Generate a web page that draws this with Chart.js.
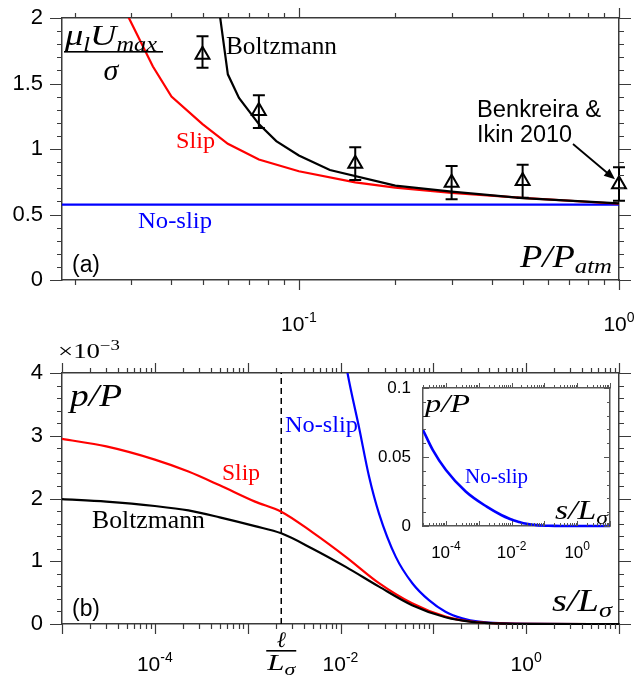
<!DOCTYPE html>
<html lang="en">
<head>
<meta charset="UTF-8" />
<title>Maximum speed and pressure: Boltzmann, slip and no-slip</title>
<script src="https://cdn.jsdelivr.net/npm/chart.js"></script>
<style>
  html, body { margin: 0; padding: 0; background: #fff; }
  #wrap { position: relative; width: 636px; height: 677px; }
  #wrap canvas { position: absolute; left: 0; top: 0; }
</style>
</head>
<body>
<div id="wrap">
  <canvas id="chartA" width="636" height="677"></canvas>
  <canvas id="chartB" width="636" height="677"></canvas>
  <canvas id="chartInset" width="636" height="677"></canvas>
</div>
<script>
// ---------- panel (a): mu_l U_max / sigma against P / P_atm ----------
const pressureNoSlip = [0.0182, 1];
const umaxNoSlip = [0.575, 0.575];
const pressureSlip = [0.025, 0.03, 0.035, 0.04, 0.05, 0.06, 0.075, 0.1, 0.15, 0.2, 0.3, 0.5, 1];
const umaxSlip = [2.35, 1.96, 1.63, 1.40, 1.19, 1.04, 0.92, 0.83, 0.745, 0.705, 0.665, 0.627, 0.582];
const pressureBoltz = [0.05, 0.06, 0.065, 0.075, 0.085, 0.1, 0.125, 0.2, 0.3, 0.5, 1];
const umaxBoltz = [3.0, 1.57, 1.39, 1.19, 1.06, 0.95, 0.84, 0.72, 0.675, 0.625, 0.585];
// Benkreira & Ikin 2010 measurements with error bars
const pressureExp = [0.05, 0.075, 0.15, 0.3, 0.5, 1];
const umaxExp = [1.72, 1.29, 0.887, 0.742, 0.756, 0.73];
const umaxExpLow = [1.62, 1.16, 0.763, 0.616, 0.628, 0.605];
const umaxExpHigh = [1.86, 1.41, 1.013, 0.870, 0.880, 0.860];

// ---------- panel (b): p / P against s / L_sigma (values x 1e-3) ----------
const sGrid = [1e-5, 3e-5, 1e-4, 2.3e-4, 5e-4, 1.2e-3, 2.3e-3, 5e-3, 1.14e-2, 2.6e-2, 5.9e-2, 0.135, 0.26, 1, 10];
const pSlip = [2.95, 2.83, 2.62, 2.43, 2.21, 1.95, 1.79, 1.46, 1.07, 0.65, 0.33, 0.117, 0.037, 0.003, 0];
const pBoltz = [1.99, 1.95, 1.88, 1.81, 1.70, 1.56, 1.445, 1.20, 0.91, 0.595, 0.30, 0.107, 0.035, 0.003, 0];
// no-slip p/P (true value, used as is in the inset and x1000 in panel b)
const sNoSlip = [2e-5, 4e-5, 1e-4, 4e-4, 1.75e-3, 5e-3, 9e-3, 1.19e-2, 1.58e-2, 2.03e-2, 2.6e-2, 3.94e-2, 5.94e-2, 8.97e-2, 0.135, 0.205, 0.31, 1, 10];
const pNoSlip = [0.0696, 0.055, 0.0406, 0.025, 0.014, 0.0078, 0.0051, 0.0040, 0.00314, 0.00235, 0.00176, 0.00107, 0.00065, 0.00038, 0.000196, 0.00009, 0.000037, 0.000002, 0];
const ellOverL = 2.3e-3;

// tick labels
const aTickVals = [0.1, 1];
const aTickExps = ['-1', '0'];
const bTickVals = [1e-4, 1e-2, 1];
const bTickExps = ['-4', '-2', '0'];

const W = 636, H = 677;
const SANS = '"Liberation Sans", Arial, Helvetica, sans-serif';
const SERIF = '"Liberation Serif", "Times New Roman", serif';
const AXIS = '#3a3a3a';
const AREA_A = { left: 62, top: 18, right: 619, bottom: 280 };
const AREA_B = { left: 62, top: 373, right: 619, bottom: 624 };
const AREA_I = { left: 423, top: 388, right: 610, bottom: 526 };

const zip = (xs, ys) => xs.map((x, i) => ({ x: x, y: ys[i] }));
const fmt = v => String(Math.round(v * 1000) / 1000);

function logTicks(min, max) {
  const major = [], minor = [];
  for (let e = Math.floor(Math.log10(min)); e <= Math.ceil(Math.log10(max)); e++) {
    for (let k = 1; k < 10; k++) {
      const v = k * Math.pow(10, e);
      if (v < min * 0.999 || v > max * 1.001) continue;
      (k === 1 ? major : minor).push(v);
    }
  }
  return { major, minor };
}
function linTicks(min, max, step) {
  const out = [];
  for (let i = 0; min + i * step <= max + 1e-9; i++) out.push(min + i * step);
  return out;
}

// text made of runs [text, font, dy]; optional fitted width
function drawRuns(ctx, runs, x, y, o) {
  o = o || {};
  ctx.save();
  let w = 0;
  runs.forEach(r => { ctx.font = r[1]; w += ctx.measureText(r[0]).width; });
  const sx = o.width ? o.width / w : 1;
  let x0 = x;
  if (o.align === 'center') x0 = x - w * sx / 2;
  if (o.align === 'right') x0 = x - w * sx;
  ctx.translate(x0, y);
  ctx.scale(sx, 1);
  ctx.fillStyle = o.color || '#000';
  ctx.textAlign = 'left';
  ctx.textBaseline = 'alphabetic';
  let cx = 0;
  runs.forEach(r => { ctx.font = r[1]; ctx.fillText(r[0], cx, r[2] || 0); cx += ctx.measureText(r[0]).width; });
  ctx.restore();
}

// short tick marks on one edge of the plot area; dir = +1 / -1 away from the edge
function tickMarks(ctx, scale, values, edge, dir, len) {
  ctx.beginPath();
  values.forEach(v => {
    const p = Math.round(scale.getPixelForValue(v)) + 0.5;
    if (scale.isHorizontal()) { ctx.moveTo(p, edge); ctx.lineTo(p, edge + dir * len); }
    else { ctx.moveTo(edge, p); ctx.lineTo(edge + dir * len, p); }
  });
  ctx.stroke();
}

function powerLabels(ctx, scale, vals, exps, y, size) {
  vals.forEach((v, i) => {
    drawRuns(ctx, [['10', size + 'px ' + SANS, 0], [exps[i], Math.round(size * 0.68) + 'px ' + SANS, -Math.round(size * 0.45)]],
      scale.getPixelForValue(v), y, { align: 'center' });
  });
}

function fixed(area, side) {
  return s => {
    if (side === 'left') s.width = area.left;
    if (side === 'right') s.width = W - area.right;
    if (side === 'top') s.height = area.top;
    if (side === 'bottom') s.height = H - area.bottom;
  };
}

function axes(area, xType, xMin, xMax, yMin, yMax, yStep, yFont, yGap, borderColor) {
  const hidden = { display: false };
  const grid = { display: false, drawTicks: false };
  const border = { color: borderColor, width: 1.5 };
  return {
    x: { type: xType, position: 'bottom', min: xMin, max: xMax, grid, border, ticks: hidden, afterFit: fixed(area, 'bottom') },
    xTop: { type: xType, position: 'top', min: xMin, max: xMax, grid, border, ticks: hidden, afterFit: fixed(area, 'top') },
    // the gap between label and axis goes in tickLength so that it does not pad the top of the plot
    y: { type: 'linear', position: 'left', min: yMin, max: yMax, border,
         grid: { display: false, drawTicks: true, tickLength: yGap },
         ticks: { stepSize: yStep, padding: 0, color: '#000', font: { family: SANS, size: yFont }, callback: fmt },
         afterFit: fixed(area, 'left') },
    yRight: { type: 'linear', position: 'right', min: yMin, max: yMax, grid, border, ticks: hidden, afterFit: fixed(area, 'right') }
  };
}

const common = {
  responsive: false,
  animation: false,
  events: [],
  layout: { padding: 0 },
  plugins: { legend: { display: false }, tooltip: { enabled: false } }
};
const line = (data, color, extra) => Object.assign({ data, borderColor: color, borderWidth: 2.2, pointRadius: 0, fill: false, tension: 0 }, extra || {});

// ---------- chart (a) ----------
const decorA = {
  id: 'decorA',
  afterDraw(chart) {
    const ctx = chart.ctx, a = chart.chartArea;
    const xs = chart.scales.x, ys = chart.scales.y;
    // error bars
    ctx.save();
    ctx.strokeStyle = '#000';
    ctx.lineWidth = 2;
    pressureExp.forEach((p, i) => {
      const x = xs.getPixelForValue(p);
      const lo = ys.getPixelForValue(umaxExpLow[i]), hi = ys.getPixelForValue(umaxExpHigh[i]);
      ctx.beginPath();
      ctx.moveTo(x, lo); ctx.lineTo(x, hi);
      ctx.moveTo(x - 6, lo); ctx.lineTo(x + 6, lo);
      ctx.moveTo(x - 6, hi); ctx.lineTo(x + 6, hi);
      ctx.stroke();
    });
    // ticks
    ctx.strokeStyle = AXIS;
    ctx.lineWidth = 1.2;
    const lt = logTicks(xs.min, xs.max);
    tickMarks(ctx, xs, lt.major, a.bottom, 1, 10);
    tickMarks(ctx, xs, lt.minor, a.bottom, 1, 5);
    tickMarks(ctx, xs, lt.major, a.top, -1, 10);
    tickMarks(ctx, xs, lt.minor, a.top, -1, 5);
    const ym = linTicks(0, 2, 0.5), yn = linTicks(0, 2, 0.1);
    tickMarks(ctx, ys, ym, a.left, -1, 12);
    tickMarks(ctx, ys, yn, a.left, -1, 5);
    tickMarks(ctx, ys, ym, a.right, 1, 12);
    tickMarks(ctx, ys, yn, a.right, 1, 5);
    powerLabels(ctx, xs, aTickVals, aTickExps, 331, 21);

    // annotations
    const it = 'italic ';
    drawRuns(ctx, [['\u03bc', it + '30px ' + SERIF, 0], ['l', it + '20px ' + SERIF, 6], ['U', it + '30px ' + SERIF, 0], ['max', it + '20px ' + SERIF, 6]], 65, 45, { width: 92 });
    ctx.fillStyle = '#000';
    ctx.fillRect(64, 51, 99, 1.6);
    drawRuns(ctx, [['\u03c3', it + '30px ' + SERIF, 0]], 111, 80, { align: 'center' });
    drawRuns(ctx, [['Boltzmann', '25px ' + SERIF, 0]], 226, 54, { width: 111 });
    drawRuns(ctx, [['Slip', '24px ' + SERIF, 0]], 176, 148, { width: 39, color: '#ff0000' });
    drawRuns(ctx, [['No-slip', '24px ' + SERIF, 0]], 138, 228, { width: 74, color: '#0000ff' });
    drawRuns(ctx, [['(a)', '23px ' + SANS, 0]], 72, 272, { width: 28 });
    drawRuns(ctx, [['P/P', it + '31px ' + SERIF, 0], ['atm', it + '21px ' + SERIF, 6]], 520, 267, { width: 92 });
    drawRuns(ctx, [['Benkreira &', '23px ' + SANS, 0]], 477, 117, { width: 124 });
    drawRuns(ctx, [['Ikin 2010', '23px ' + SANS, 0]], 477, 142, { width: 95 });

    // arrow from the label to the last measurement
    const n = pressureExp.length - 1;
    const tx = xs.getPixelForValue(pressureExp[n]) - 4, ty = ys.getPixelForValue(umaxExp[n]) - 5;
    const fx = 573, fy = 144;
    const ang = Math.atan2(ty - fy, tx - fx);
    ctx.strokeStyle = '#000';
    ctx.lineWidth = 1.8;
    ctx.beginPath();
    ctx.moveTo(fx, fy);
    ctx.lineTo(tx - 8 * Math.cos(ang), ty - 8 * Math.sin(ang));
    ctx.stroke();
    ctx.beginPath();
    ctx.moveTo(tx, ty);
    ctx.lineTo(tx - 11 * Math.cos(ang) + 4.5 * Math.sin(ang), ty - 11 * Math.sin(ang) - 4.5 * Math.cos(ang));
    ctx.lineTo(tx - 11 * Math.cos(ang) - 4.5 * Math.sin(ang), ty - 11 * Math.sin(ang) + 4.5 * Math.cos(ang));
    ctx.closePath();
    ctx.fill();
    ctx.restore();
  }
};

new Chart(document.getElementById('chartA'), {
  type: 'line',
  data: {
    datasets: [
      { data: zip(pressureExp, umaxExp), showLine: false, pointStyle: 'triangle', pointRadius: 8,
        pointBorderWidth: 2, pointBorderColor: '#000', pointBackgroundColor: 'rgba(255,255,255,0)', clip: false },
      line(zip(pressureBoltz, umaxBoltz), '#000000'),
      line(zip(pressureSlip, umaxSlip), '#ff0000'),
      line(zip(pressureNoSlip, umaxNoSlip), '#0000ff')
    ]
  },
  options: Object.assign({}, common, {
    scales: axes(AREA_A, 'logarithmic', 0.0182, 1, 0, 2, 0.5, 22, 19, AXIS)
  }),
  plugins: [decorA]
});

// ---------- chart (b) ----------
const decorB = {
  id: 'decorB',
  afterDraw(chart) {
    const ctx = chart.ctx, a = chart.chartArea;
    const xs = chart.scales.x, ys = chart.scales.y;
    ctx.save();
    ctx.strokeStyle = AXIS;
    ctx.lineWidth = 1.2;
    const lt = logTicks(xs.min, xs.max);
    tickMarks(ctx, xs, lt.major, a.bottom, 1, 10);
    tickMarks(ctx, xs, lt.minor, a.bottom, 1, 5);
    tickMarks(ctx, xs, lt.major, a.top, -1, 10);
    tickMarks(ctx, xs, lt.minor, a.top, -1, 5);
    const ym = linTicks(0, 4, 1), yn = linTicks(0, 4, 0.2);
    tickMarks(ctx, ys, ym, a.left, -1, 12);
    tickMarks(ctx, ys, yn, a.left, -1, 5);
    tickMarks(ctx, ys, ym, a.right, 1, 12);
    tickMarks(ctx, ys, yn, a.right, 1, 5);
    powerLabels(ctx, xs, bTickVals, bTickExps, 671, 21);

    const it = 'italic ';
    drawRuns(ctx, [['\u00d710', '20px ' + SERIF, 0], ['\u22123', '14px ' + SERIF, -8]], 58, 358, { width: 62 });
    drawRuns(ctx, [['p/P', it + '32px ' + SERIF, 0]], 70, 406, { width: 52 });
    drawRuns(ctx, [['Slip', '24px ' + SERIF, 0]], 222, 480, { width: 38, color: '#ff0000' });
    drawRuns(ctx, [['Boltzmann', '25px ' + SERIF, 0]], 92, 528, { width: 113 });
    drawRuns(ctx, [['No-slip', '24px ' + SERIF, 0]], 285, 432, { width: 73, color: '#0000ff' });
    drawRuns(ctx, [['(b)', '23px ' + SANS, 0]], 72, 616, { width: 28 });
    drawRuns(ctx, [['s/L', it + '32px ' + SERIF, 0], ['\u03c3', it + '22px ' + SERIF, 6]], 552, 611, { width: 60 });
    // l / L_sigma under the dashed line
    const xl = xs.getPixelForValue(ellOverL);
    drawRuns(ctx, [['\u2113', it + '22px ' + SERIF, 0]], xl, 647, { align: 'center' });
    ctx.fillStyle = '#000';
    ctx.fillRect(xl - 15, 650, 30, 1.6);
    drawRuns(ctx, [['L', it + '24px ' + SERIF, 0], ['\u03c3', it + '17px ' + SERIF, 5]], xl - 14, 670, { width: 28 });
    ctx.restore();
  }
};

const clipB = { left: 0, top: 0, right: 2, bottom: 3 };
new Chart(document.getElementById('chartB'), {
  type: 'line',
  data: {
    datasets: [
      line(zip(sGrid, pBoltz), '#000000', { cubicInterpolationMode: 'monotone', clip: clipB }),
      line(zip(sGrid, pSlip), '#ff0000', { cubicInterpolationMode: 'monotone', clip: clipB }),
      line(zip(sNoSlip, pNoSlip.map(v => v * 1000)), '#0000ff', { cubicInterpolationMode: 'monotone', clip: clipB }),
      line([{ x: ellOverL, y: 0 }, { x: ellOverL, y: 4 }], '#000000', { borderWidth: 1.5, borderDash: [6, 4] })
    ]
  },
  options: Object.assign({}, common, {
    scales: axes(AREA_B, 'logarithmic', 1e-5, 10, 0, 4, 1, 22, 19, AXIS)
  }),
  plugins: [decorB]
});

// ---------- inset ----------
const decorInset = {
  id: 'decorInset',
  beforeDraw(chart) {
    const a = chart.chartArea;
    chart.ctx.save();
    chart.ctx.fillStyle = '#fff';
    chart.ctx.fillRect(a.left, a.top, a.right - a.left, a.bottom - a.top);
    chart.ctx.restore();
  },
  afterDraw(chart) {
    const ctx = chart.ctx, a = chart.chartArea;
    const xs = chart.scales.x, ys = chart.scales.y;
    ctx.save();
    ctx.strokeStyle = '#555';
    ctx.lineWidth = 1;
    const lt = logTicks(xs.min, xs.max);
    tickMarks(ctx, xs, lt.major, a.top, -1, 5);
    tickMarks(ctx, xs, lt.minor, a.top, -1, 3);
    tickMarks(ctx, xs, lt.major, a.bottom, -1, 5);
    tickMarks(ctx, xs, lt.minor, a.bottom, -1, 3);
    const ym = linTicks(0, 0.1, 0.05), yn = linTicks(0, 0.1, 0.01);
    tickMarks(ctx, ys, ym, a.left, 1, 6);
    tickMarks(ctx, ys, yn, a.left, 1, 3);
    tickMarks(ctx, ys, ym, a.right, -1, 6);
    tickMarks(ctx, ys, yn, a.right, -1, 3);
    powerLabels(ctx, xs, bTickVals, bTickExps, 558, 17);

    const it = 'italic ';
    drawRuns(ctx, [['p/P', it + '26px ' + SERIF, 0]], 425, 412, { width: 45 });
    drawRuns(ctx, [['No-slip', '20px ' + SERIF, 0]], 465, 483, { width: 63, color: '#0000ff' });
    drawRuns(ctx, [['s/L', it + '27px ' + SERIF, 0], ['\u03c3', it + '19px ' + SERIF, 5]], 555, 519, { width: 53 });
    ctx.restore();
  }
};

new Chart(document.getElementById('chartInset'), {
  type: 'line',
  data: {
    datasets: [
      line(zip(sNoSlip, pNoSlip), '#0000ff', { borderWidth: 2.6, cubicInterpolationMode: 'monotone', clip: { left: 0, top: 0, right: 2, bottom: 3 } })
    ]
  },
  options: Object.assign({}, common, {
    scales: axes(AREA_I, 'logarithmic', 2e-5, 10, 0, 0.1, 0.05, 17, 12, '#555')
  }),
  plugins: [decorInset]
});
</script>
</body>
</html>
